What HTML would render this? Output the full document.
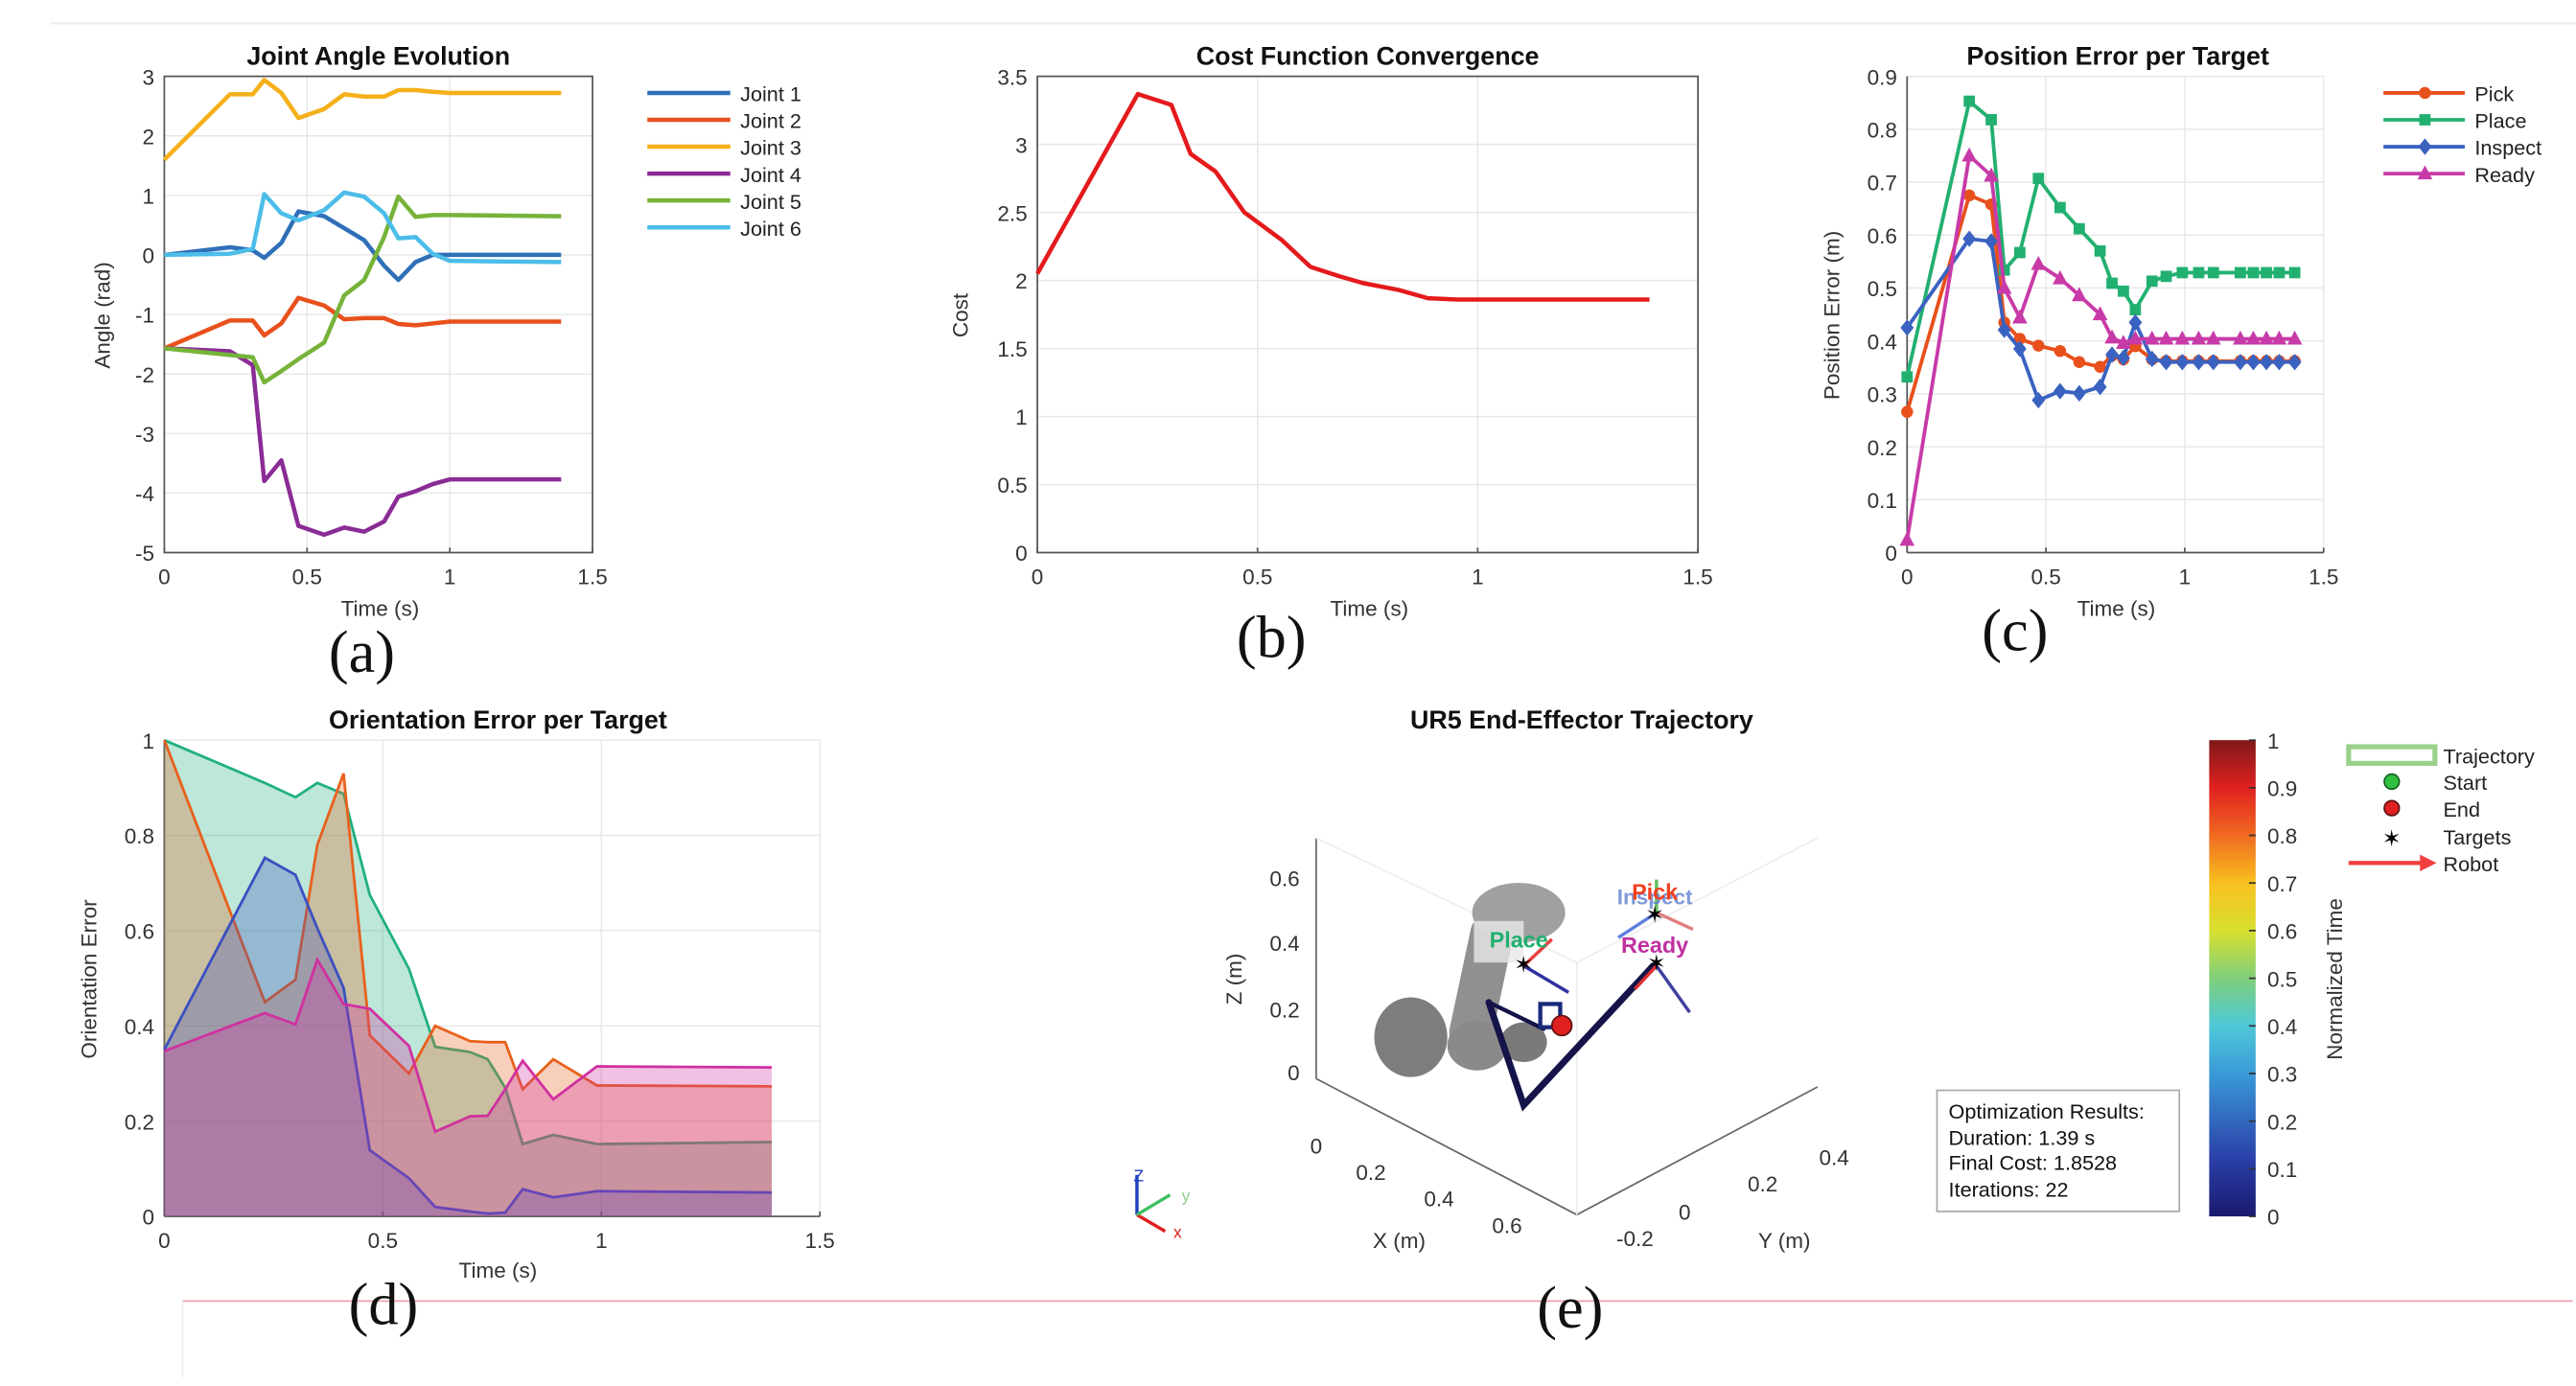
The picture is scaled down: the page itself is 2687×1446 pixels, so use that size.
<!DOCTYPE html>
<html><head><meta charset="utf-8"><style>
html,body{margin:0;padding:0;background:#fff;}
svg{display:block;font-family:"Liberation Sans",sans-serif;}
.tk{font-size:13px;fill:#333;}
.ttl{font-size:15.5px;font-weight:bold;fill:#111;}
.lab{font-size:13px;fill:#333;}
.cap{font-family:"Liberation Serif",serif;font-size:36px;fill:#111;}
.grid{stroke:#e6e6e6;stroke-width:0.8;}
.axis{stroke:#555;stroke-width:1;fill:none;}
.leg{font-size:12.5px;fill:#222;}
</style></head><body>
<svg id="fig" width="2687" height="1446" viewBox="0 0 1552 835.2" preserveAspectRatio="none" xmlns="http://www.w3.org/2000/svg">
<line x1="30" y1="14" x2="1552" y2="14" stroke="#f2f2f2" stroke-width="1.5"/>
<line x1="110" y1="784" x2="1550" y2="784" stroke="#f0a0a8" stroke-width="1"/>
<line x1="110" y1="784" x2="110" y2="830" stroke="#f0f0f0" stroke-width="1"/>
<g id="pa"></g>
<g id="pb"></g>
<g id="pc"></g>
<g id="pd"></g>
<g id="pe">
  <defs>
    <linearGradient id="jet" x1="0" y1="1" x2="0" y2="0">
      <stop offset="0" stop-color="#1a1a6e"/><stop offset="0.12" stop-color="#2a3fa8"/>
      <stop offset="0.3" stop-color="#3a9ad8"/><stop offset="0.4" stop-color="#4fc8d8"/>
      <stop offset="0.5" stop-color="#7fcf7a"/><stop offset="0.6" stop-color="#d8e030"/>
      <stop offset="0.7" stop-color="#f8c020"/><stop offset="0.8" stop-color="#f06a20"/>
      <stop offset="0.9" stop-color="#e02020"/><stop offset="1" stop-color="#801818"/>
    </linearGradient>
  </defs>
  <text class="ttl" x="953" y="439" text-anchor="middle">UR5 End-Effector Trajectory</text>
  <g stroke="#666" stroke-width="1" fill="none">
    <line x1="793" y1="505" x2="793" y2="650"/>
    <line x1="793" y1="650" x2="950" y2="732"/>
    <line x1="950" y1="732" x2="1095" y2="655"/>
    <line x1="793" y1="505" x2="950" y2="580" stroke="#eee"/>
    <line x1="950" y1="580" x2="1095" y2="505" stroke="#eee"/>
    <line x1="950" y1="580" x2="950" y2="732" stroke="#eee"/>
  </g>
  <g class="tk">
    <text x="783" y="534" text-anchor="end">0.6</text><text x="783" y="573" text-anchor="end">0.4</text>
    <text x="783" y="613" text-anchor="end">0.2</text><text x="783" y="651" text-anchor="end">0</text>
    <text x="793" y="695" text-anchor="middle">0</text><text x="826" y="711" text-anchor="middle">0.2</text>
    <text x="867" y="727" text-anchor="middle">0.4</text><text x="908" y="743" text-anchor="middle">0.6</text>
    <text x="985" y="751" text-anchor="middle">-0.2</text><text x="1015" y="735" text-anchor="middle">0</text>
    <text x="1062" y="718" text-anchor="middle">0.2</text><text x="1105" y="702" text-anchor="middle">0.4</text>
  </g>
  <text class="lab" x="0" y="0" transform="translate(748,590) rotate(-90)" text-anchor="middle">Z (m)</text>
  <text class="lab" x="843" y="752" text-anchor="middle">X (m)</text>
  <text class="lab" x="1075" y="752" text-anchor="middle">Y (m)</text>
  <g fill="#8a8a8a">
    <ellipse cx="850" cy="625" rx="22" ry="24" fill="#7d7d7d"/>
    <rect x="880" y="550" width="26" height="85" rx="12" transform="rotate(12 893 590)" fill="#909090"/>
    <ellipse cx="915" cy="550" rx="28" ry="18" fill="#a0a0a0"/>
    <ellipse cx="890" cy="630" rx="18" ry="15" fill="#8a8a8a"/>
    <ellipse cx="918" cy="628" rx="14" ry="12" fill="#7a7a7a"/>
    <rect x="888" y="555" width="30" height="25" fill="#e8e8e8" opacity="0.8"/>
  </g>
  <g stroke="#14144a" stroke-width="4" fill="none" stroke-linecap="round">
    <polyline points="897,604 918,666 996,582"/>
    <polyline points="897,604 930,620" stroke-width="2.5"/>
    <rect x="928" y="605" width="12" height="14" stroke="#1a2a7a" stroke-width="2.5"/>
  </g>
  <circle cx="941" cy="618" r="6" fill="#e02020" stroke="#601010"/>
  <g stroke-width="2">
    <line x1="918" y1="582" x2="945" y2="598" stroke="#3030a0"/>
    <line x1="918" y1="582" x2="935" y2="566" stroke="#e84040"/>
    <line x1="998" y1="582" x2="1018" y2="610" stroke="#4040a0"/>
    <line x1="998" y1="582" x2="985" y2="596" stroke="#e03030"/>
    <line x1="998" y1="550" x2="975" y2="565" stroke="#6080e0"/>
    <line x1="998" y1="550" x2="1020" y2="560" stroke="#e08080"/>
    <line x1="998" y1="550" x2="998" y2="530" stroke="#60c060"/>
  </g>
  <text x="998" y="585" text-anchor="middle" font-size="14" fill="#000">✶</text>
  <text x="918" y="586" text-anchor="middle" font-size="14" fill="#000">✶</text>
  <text x="997" y="556" text-anchor="middle" font-size="14" fill="#000">✶</text>
  <text x="997" y="545" text-anchor="middle" font-size="13" font-weight="bold" fill="#6080d0" opacity="0.8">Inspect</text>
  <text x="997" y="542" text-anchor="middle" font-size="13.5" font-weight="bold" fill="#f04020">Pick</text>
  <text x="915" y="571" text-anchor="middle" font-size="13.5" font-weight="bold" fill="#20b070">Place</text>
  <text x="997" y="574" text-anchor="middle" font-size="13.5" font-weight="bold" fill="#c030a0">Ready</text>
  <g stroke-width="2">
    <line x1="685" y1="732" x2="685" y2="708" stroke="#2040c0"/>
    <line x1="685" y1="732" x2="702" y2="742" stroke="#e02020"/>
    <line x1="685" y1="732" x2="705" y2="720" stroke="#40c060"/>
    <text x="683" y="712" font-size="10" fill="#2040c0" stroke="none">Z</text>
    <text x="707" y="746" font-size="10" fill="#e02020" stroke="none">x</text>
    <text x="712" y="724" font-size="10" fill="#90d090" stroke="none">y</text>
  </g>
  <rect x="1167" y="657" width="146" height="73" fill="#fff" stroke="#aaa"/>
  <g font-size="12.5" fill="#111">
    <text x="1174" y="674">Optimization Results:</text>
    <text x="1174" y="690">Duration: 1.39 s</text>
    <text x="1174" y="705">Final Cost: 1.8528</text>
    <text x="1174" y="721">Iterations: 22</text>
  </g>
  <rect x="1331" y="446" width="28" height="287" fill="url(#jet)"/>
  <g id="cbt" class="tk"></g>
  <text class="lab" transform="translate(1411,590) rotate(-90)" text-anchor="middle">Normalized Time</text>
  <g>
    <rect x="1415" y="450" width="52" height="10" fill="#fff" stroke="#9ad08a" stroke-width="3"/>
    <text class="leg" x="1472" y="460">Trajectory</text>
    <circle cx="1441" cy="471" r="4.5" fill="#30c040" stroke="#186020"/><text class="leg" x="1472" y="476">Start</text>
    <circle cx="1441" cy="487" r="4.5" fill="#e02020" stroke="#601010"/><text class="leg" x="1472" y="492">End</text>
    <text x="1441" y="510" text-anchor="middle" font-size="14" fill="#000">✶</text><text class="leg" x="1472" y="509">Targets</text>
    <line x1="1415" y1="520" x2="1460" y2="520" stroke="#f04040" stroke-width="2.5"/><polygon points="1458,515 1468,520 1458,525" fill="#f04040"/>
    <text class="leg" x="1472" y="525">Robot</text>
  </g>
  <text class="cap" x="946" y="800" text-anchor="middle">(e)</text>
</g>
<script>
// ---------- data ----------
const jointTimes = [0,0.23,0.31,0.35,0.41,0.47,0.56,0.63,0.70,0.77,0.82,0.88,0.94,1.0,1.39];
const joint1 = [0,0.13,0.08,-0.05,0.2,0.73,0.65,0.45,0.25,-0.18,-0.42,-0.12,0.0,0,0];
const joint2 = [-1.57,-1.1,-1.1,-1.35,-1.15,-0.72,-0.85,-1.08,-1.06,-1.06,-1.16,-1.18,-1.15,-1.12,-1.12];
const joint3 = [1.6,2.7,2.7,2.94,2.72,2.3,2.45,2.7,2.66,2.66,2.77,2.77,2.74,2.72,2.72];
const joint4 = [-1.57,-1.62,-1.85,-3.8,-3.45,-4.55,-4.7,-4.58,-4.65,-4.48,-4.06,-3.97,-3.85,-3.77,-3.77];
const joint5 = [-1.57,-1.68,-1.72,-2.14,-1.95,-1.75,-1.47,-0.68,-0.42,0.3,0.98,0.64,0.67,0.67,0.65];
const joint6 = [0,0.02,0.1,1.02,0.7,0.58,0.75,1.05,0.98,0.7,0.28,0.3,0.02,-0.1,-0.12];
const jointTicksY = [3,2,1,0,-1,-2,-3,-4,-5];
const timeTicks = [0,0.5,1,1.5];

const costTimes = [0,0.228,0.304,0.348,0.405,0.47,0.554,0.62,0.686,0.74,0.82,0.887,0.953,1.39];
const costValues = [2.05,3.37,3.29,2.93,2.8,2.5,2.3,2.1,2.03,1.98,1.93,1.87,1.86,1.86];
const costTicksY = [0,0.5,1,1.5,2,2.5,3,3.5];

const posTimes = [0,0.224,0.303,0.35,0.406,0.473,0.551,0.62,0.695,0.738,0.779,0.822,0.882,0.933,0.991,1.05,1.103,1.2,1.247,1.294,1.34,1.396];
const posPick = [0.266,0.675,0.658,0.435,0.404,0.391,0.381,0.36,0.351,0.372,0.365,0.39,0.365,0.362,0.362,0.362,0.362,0.362,0.362,0.362,0.362,0.362];
const posPlace = [0.332,0.853,0.818,0.534,0.567,0.707,0.652,0.612,0.57,0.509,0.494,0.459,0.513,0.522,0.529,0.529,0.529,0.529,0.529,0.529,0.529,0.529];
const posInspect = [0.425,0.593,0.588,0.421,0.385,0.288,0.305,0.301,0.313,0.374,0.368,0.435,0.366,0.36,0.36,0.36,0.36,0.36,0.36,0.36,0.36,0.36];
const posReady = [0.024,0.75,0.712,0.5,0.444,0.545,0.518,0.486,0.45,0.406,0.396,0.404,0.404,0.404,0.404,0.404,0.404,0.404,0.404,0.404,0.404,0.404];
const posTicksY = [0,0.1,0.2,0.3,0.4,0.5,0.6,0.7,0.8,0.9];

const oriTimes = [0,0.23,0.30,0.35,0.41,0.47,0.56,0.62,0.70,0.74,0.78,0.82,0.89,0.99,1.39];
const oriPlace = [1.0,0.91,0.88,0.91,0.887,0.675,0.52,0.356,0.345,0.33,0.27,0.152,0.171,0.152,0.156];
const oriPick = [1.0,0.45,0.497,0.78,0.93,0.38,0.30,0.40,0.368,0.366,0.366,0.267,0.33,0.275,0.273];
const oriInspect = [0.35,0.753,0.717,0.605,0.48,0.139,0.08,0.02,0.01,0.006,0.008,0.057,0.04,0.053,0.05];
const oriReady = [0.347,0.427,0.403,0.539,0.446,0.436,0.358,0.178,0.21,0.211,0.267,0.327,0.246,0.315,0.313];
const oriTicksY = [0,0.2,0.4,0.6,0.8,1];
const cbTicks = [0,0.1,0.2,0.3,0.4,0.5,0.6,0.7,0.8,0.9,1];

// ---------- helpers ----------
const NS = "http://www.w3.org/2000/svg";
function mk(parent, tag, attrs, text) {
  const e = document.createElementNS(NS, tag);
  for (const k in attrs) e.setAttribute(k, attrs[k]);
  if (text !== undefined) e.textContent = text;
  parent.appendChild(e);
  return e;
}
function fmt(v){ return String(v); }
function axes(g, X, Y, x0, x1, y0, y1, yt, box, gridOn) {
  if (gridOn) {
    timeTicks.forEach(t => { const l = mk(g,'line',{x1:X(t),x2:X(t),y1:y0,y2:y1,class:'grid'});
      
       });
    yt.forEach(v => { const l = mk(g,'line',{x1:x0,x2:x1,y1:Y(v),y2:Y(v),class:'grid'});
      
       });
  }
  const a = mk(g,'path',{class:'axis',d: box ? `M${x0},${y1}V${y0}H${x1}V${y1}Z` : `M${x0},${y1}V${y0}M${x0},${y0}H${x1}`});
  
  
  timeTicks.forEach(t => {
    const tx = mk(g,'text',{x:X(t),y:y0+19,class:'tk','text-anchor':'middle'},fmt(t));
    
    
    mk(g,'line',{x1:X(t),x2:X(t),y1:y0,y2:y0-3,stroke:'#555'});
  });
  yt.forEach(v => {
    const tx = mk(g,'text',{x:x0-6,y:Y(v)+5,class:'tk','text-anchor':'end'},fmt(v));
    
    
  });
}
function pts(ts, vs, X, Y){ return ts.map((t,i)=>X(t).toFixed(1)+','+Y(vs[i]).toFixed(1)).join(' '); }

// ---------- panel a ----------
(function(){
  const g = document.getElementById('pa');
  const X = t => 99 + t*172, Y = v => 46 + (3-v)*35.875;
  axes(g, X, Y, 99, 357, 333, 46, jointTicksY, true, true);
  const series = [[joint1,'#2f6fb8','Joint 1'],[joint2,'#e8501c','Joint 2'],[joint3,'#f5b01a','Joint 3'],[joint4,'#8a2c96','Joint 4'],[joint5,'#76b33a','Joint 5'],[joint6,'#4cbde8','Joint 6']];
  series.forEach((s,i) => {
    const p = mk(g,'polyline',{points:pts(jointTimes,s[0],X,Y),fill:'none',stroke:s[1],'stroke-width':2.6,'stroke-linejoin':'round'});
    
    
    const y = 56 + i*16.2;
    const l = mk(g,'line',{x1:390,x2:440,y1:y,y2:y,stroke:s[1],'stroke-width':2.6});
    
    
    const t = mk(g,'text',{x:446,y:y+5,class:'leg'},s[2]);
    
    
  });
  const tt = mk(g,'text',{x:228,y:39,class:'ttl','text-anchor':'middle'},'Joint Angle Evolution');
   
  const yl = mk(g,'text',{transform:'translate(66,190) rotate(-90)',class:'lab','text-anchor':'middle'},'Angle (rad)');
   
  const xl = mk(g,'text',{x:229,y:371,class:'lab','text-anchor':'middle'},'Time (s)');
   
  const c = mk(g,'text',{x:218,y:405,class:'cap','text-anchor':'middle'},'(a)');
   
})();

// ---------- panel b ----------
(function(){
  const g = document.getElementById('pb');
  const X = t => 625 + t*265.3, Y = v => 333 - v*82;
  axes(g, X, Y, 625, 1023, 333, 46, costTicksY, true, true);
  const p = mk(g,'polyline',{points:pts(costTimes,costValues,X,Y),fill:'none',stroke:'#e41a1c','stroke-width':2.6,'stroke-linejoin':'round'});
   
  const tt = mk(g,'text',{x:824,y:39,class:'ttl','text-anchor':'middle'},'Cost Function Convergence');
   
  const yl = mk(g,'text',{transform:'translate(583,190) rotate(-90)',class:'lab','text-anchor':'middle'},'Cost');
   
  const xl = mk(g,'text',{x:825,y:371,class:'lab','text-anchor':'middle'},'Time (s)');
   
  const c = mk(g,'text',{x:766,y:396,class:'cap','text-anchor':'middle'},'(b)');
   
})();

// ---------- panel c ----------
(function(){
  const g = document.getElementById('pc');
  const X = t => 1149 + t*167.3, Y = v => 333 - v*318.9;
  axes(g, X, Y, 1149, 1400, 333, 46, posTicksY, false, true);
  const series = [[posPick,'#e8501c','Pick','circle'],[posPlace,'#22b070','Place','square'],[posInspect,'#3a62c0','Inspect','diamond'],[posReady,'#c83aa8','Ready','tri']];
  function marker(x,y,type,col){
    if (type==='circle') return mk(g,'circle',{cx:x,cy:y,r:3.6,fill:col});
    if (type==='square') return mk(g,'rect',{x:x-3.4,y:y-3.4,width:6.8,height:6.8,fill:col});
    if (type==='diamond') return mk(g,'polygon',{points:`${x},${y-5} ${x+4},${y} ${x},${y+5} ${x-4},${y}`,fill:col});
    return mk(g,'polygon',{points:`${x},${y-5} ${x+4.5},${y+3.5} ${x-4.5},${y+3.5}`,fill:col});
  }
  series.forEach((s,i) => {
    const p = mk(g,'polyline',{points:pts(posTimes,s[0],X,Y),fill:'none',stroke:s[1],'stroke-width':2.2,'stroke-linejoin':'round'});
    
    
    posTimes.forEach((t,j) => {
      const m = marker(X(t),Y(s[0][j]),s[3],s[1]);
      
      
    });
    const y = 56 + i*16.2;
    const l = mk(g,'line',{x1:1436,x2:1485,y1:y,y2:y,stroke:s[1],'stroke-width':2.2});
    
    
    const lm = marker(1461,y,s[3],s[1]);
    
    
    const t = mk(g,'text',{x:1491,y:y+5,class:'leg'},s[2]);
    
    
  });
  const tt = mk(g,'text',{x:1276,y:39,class:'ttl','text-anchor':'middle'},'Position Error per Target');
   
  const yl = mk(g,'text',{transform:'translate(1108,190) rotate(-90)',class:'lab','text-anchor':'middle'},'Position Error (m)');
   
  const xl = mk(g,'text',{x:1275,y:371,class:'lab','text-anchor':'middle'},'Time (s)');
   
  const c = mk(g,'text',{x:1214,y:392,class:'cap','text-anchor':'middle'},'(c)');
   
})();

// ---------- panel d ----------
(function(){
  const g = document.getElementById('pd');
  const X = t => 99 + t*263.3, Y = v => 733 - v*287;
  axes(g, X, Y, 99, 494, 733, 446, oriTicksY, false, true);
  const series = [[oriPlace,'#20b080','place'],[oriPick,'#e8601c','pick'],[oriInspect,'#3a50c0','inspect'],[oriReady,'#d030a0','ready']];
  series.forEach(s => {
    const line = pts(oriTimes,s[0],X,Y);
    const a = mk(g,'polygon',{points:`${X(0)},${Y(0)} ${line} ${X(oriTimes[oriTimes.length-1])},${Y(0)}`,fill:s[1],'fill-opacity':0.3,stroke:'none'});
    
    
    const p = mk(g,'polyline',{points:line,fill:'none',stroke:s[1],'stroke-width':1.6});
    
    
  });
  const tt = mk(g,'text',{x:300,y:439,class:'ttl','text-anchor':'middle'},'Orientation Error per Target');
   
  const yl = mk(g,'text',{transform:'translate(58,590) rotate(-90)',class:'lab','text-anchor':'middle'},'Orientation Error');
   
  const xl = mk(g,'text',{x:300,y:770,class:'lab','text-anchor':'middle'},'Time (s)');
   
  const c = mk(g,'text',{x:231,y:798,class:'cap','text-anchor':'middle'},'(d)');
   
})();

// ---------- colorbar ticks ----------
(function(){
  const g = document.getElementById('cbt');
  cbTicks.forEach(v => {
    const y = 733 - v*287;
    mk(g,'line',{x1:1355,x2:1359,y1:y,y2:y,stroke:'#333'});
    const t = mk(g,'text',{x:1366,y:y+5},fmt(v));
    
    
  });
})();
</script>
</svg>
</body></html>
